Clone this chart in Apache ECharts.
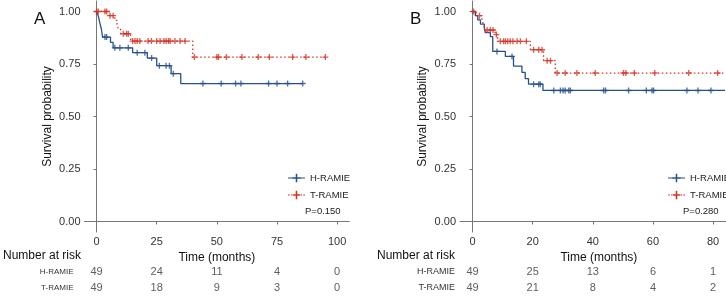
<!DOCTYPE html>
<html>
<head>
<meta charset="utf-8">
<script src="https://cdn.jsdelivr.net/npm/echarts@6/dist/echarts.min.js"></script>
<style>
html, body { margin: 0; padding: 0; background: #fff; }
#chart { width: 726px; height: 297px; }
</style>
</head>
<body>
<div id="chart"></div>
<script>
// ---- panel A ----
const aTicks = [0, 25, 50, 75, 100];
const aHTime = [0, 0.7, 1.5, 2, 2.5, 5.8, 6.9, 15, 21.1, 25, 31, 35, 85.7];
const aHSurv = [1, 0.98, 0.939, 0.918, 0.878, 0.853, 0.827, 0.804, 0.778, 0.742, 0.704, 0.657, 0.657];
const aHCens = [3.5, 4.2, 7.6, 9.7, 13.2, 16.9, 20.1, 22.9, 26.1, 28.9, 30.3, 31.9, 44.2, 51.8, 57.8, 60, 71.5, 75, 79.4, 85.7];
const aTTime = [0, 5.3, 7.6, 8.5, 9.1, 10, 14.2, 40, 95.1];
const aTSurv = [1, 0.98, 0.958, 0.938, 0.915, 0.894, 0.859, 0.783, 0.783];
const aTCens = [0, 0.7, 3.5, 4.2, 5.6, 6.9, 11.1, 12.5, 13.2, 15, 16, 16.9, 18, 21.4, 22.8, 25, 26.4, 28, 28.9, 29.9, 30.6, 32.6, 34.7, 36.8, 40.7, 50, 50.7, 54, 60.4, 67.2, 71.8, 81.5, 87, 95.1];
const aRiskH = [49, 24, 11, 4, 0];
const aRiskT = [49, 18, 9, 3, 0];

// ---- panel B ----
const bTicks = [0, 20, 40, 60, 80];
const bHTime = [0, 0.9, 1.7, 2.6, 3.9, 4.2, 5.9, 6.7, 10.9, 13.6, 16.4, 17.5, 18.6, 23.4, 84];
const bHSurv = [1, 0.98, 0.96, 0.94, 0.92, 0.90, 0.88, 0.81, 0.786, 0.74, 0.71, 0.68, 0.654, 0.624, 0.624];
const bHCens = [8.1, 13.1, 20.3, 22, 22.5, 27, 29.2, 30.1, 30.8, 32, 32.5, 43.6, 44.2, 51.9, 57.8, 59.7, 60.2, 71.3, 75, 79.3];
const bTTime = [0, 1.2, 3.1, 3.7, 4.2, 7.5, 8.3, 19.2, 23.6, 27.5, 84];
const bTSurv = [1, 0.98, 0.958, 0.937, 0.912, 0.89, 0.858, 0.818, 0.766, 0.707, 0.707];
const bTCens = [0.3, 2.3, 4.8, 5.9, 6.8, 7.9, 9.2, 10.3, 10.9, 11.7, 12.5, 13.4, 14.8, 15.9, 17.9, 20.3, 22, 23.1, 24.8, 25.9, 28.1, 30.8, 34.7, 40.8, 50.2, 51, 53.8, 60.6, 71.9, 81.5];
const bRiskH = [49, 25, 13, 6, 1];
const bRiskT = [49, 21, 8, 4, 2];

const groups = ['H-RAMIE', 'T-RAMIE'];
const yTicks = [0, 0.25, 0.5, 0.75, 1];

const BLUE = '#27508a';
const RED = '#d7301f';
const FONT = 'Liberation Sans, Arial, sans-serif';
const PLUS = 'path://M3.5,0H5.5V3.5H9V5.5H5.5V9H3.5V5.5H0V3.5H3.5Z';

// survival value at time t (step function)
function survAt(times, surv, t) {
    let v = surv[0];
    for (let i = 0; i < times.length; i++) {
        if (times[i] <= t) v = surv[i];
    }
    return v;
}

const zip = (xs, ys) => xs.map((x, i) => [x, ys[i]]);

function curve(name, times, surv, color, dotted, idx) {
    return {
        name: name,
        type: 'line',
        step: 'end',
        xAxisIndex: idx,
        yAxisIndex: idx,
        data: zip(times, surv),
        symbol: 'none',
        color: color,
        lineStyle: { color: color, width: 1.3, type: dotted ? [1.5, 2.5] : 'solid' },
        z: dotted ? 4 : 3
    };
}

function censors(name, times, surv, cens, color, idx) {
    return {
        name: name,
        type: 'scatter',
        xAxisIndex: idx,
        yAxisIndex: idx,
        data: cens.map(t => [t, survAt(times, surv, t)]),
        symbol: PLUS,
        symbolSize: 6,
        color: color,
        itemStyle: { color: color },
        z: 5
    };
}

function riskSeries(key, ticks, counts, row, idx) {
    return {
        name: key,
        type: 'scatter',
        xAxisIndex: idx,
        yAxisIndex: idx,
        data: ticks.map((t, i) => [t, row, counts[i]]),
        symbol: 'circle',
        symbolSize: 1,
        itemStyle: { color: 'rgba(0,0,0,0)' },
        label: {
            show: true,
            position: 'inside',
            formatter: p => p.value[2],
            fontFamily: FONT,
            fontSize: 11,
            color: '#333'
        }
    };
}

function plotX(idx, min, max, ticks) {
    return {
        type: 'value',
        gridIndex: idx,
        min: min,
        max: max,
        name: 'Time (months)',
        nameLocation: 'middle',
        nameGap: 18,
        nameTextStyle: { fontFamily: FONT, fontSize: 12, color: '#111' },
        axisLine: { show: true, lineStyle: { color: '#777', width: 1 } },
        axisTick: { show: true, length: 3, lineStyle: { color: '#777' }, customValues: ticks },
        axisLabel: { fontFamily: FONT, fontSize: 11, color: '#333', margin: 4, customValues: ticks },
        splitLine: { show: false }
    };
}

function plotY(idx) {
    return {
        type: 'value',
        gridIndex: idx,
        min: -0.05,
        max: 1.05,
        name: 'Survival probability',
        nameLocation: 'middle',
        nameGap: 31,
        nameTextStyle: { fontFamily: FONT, fontSize: 12, color: '#111' },
        axisLine: { show: true, lineStyle: { color: '#777', width: 1 } },
        axisTick: { show: true, length: 3, lineStyle: { color: '#777' }, customValues: yTicks },
        axisLabel: {
            fontFamily: FONT, fontSize: 11, color: '#333', margin: 4,
            customValues: yTicks,
            formatter: v => v.toFixed(2)
        },
        splitLine: { show: false }
    };
}

function riskX(idx, min, max) {
    return { type: 'value', gridIndex: idx, min: min, max: max, show: false };
}

function riskY(idx, fontSize, margin) {
    return {
        type: 'category',
        gridIndex: idx,
        inverse: true,
        data: groups,
        axisLine: { show: false },
        axisTick: { show: false },
        axisLabel: { fontFamily: FONT, fontSize: fontSize, color: '#333', margin: margin },
        splitLine: { show: false }
    };
}

const iconH = 'path://M0,4.3H20V5.7H0Z M5,4H15V6H5Z M9.1,0H10.9V10H9.1Z';
const iconT = 'path://M0,4.3H2V5.7H0Z M3.5,4.3H5.5V5.7H3.5Z M14.5,4.3H16.5V5.7H14.5Z M18,4.3H20V5.7H18Z M6,4H14V6H6Z M9.1,0H10.9V10H9.1Z';

function legendAt(left) {
    return {
        orient: 'vertical',
        left: left,
        top: 168,
        itemWidth: 17,
        itemHeight: 10,
        itemGap: 7,
        selectedMode: false,
        textStyle: { fontFamily: FONT, fontSize: 9.5, color: '#222' },
        data: [
            { name: 'H-RAMIE', icon: iconH, itemStyle: { color: BLUE } },
            { name: 'T-RAMIE', icon: iconT, itemStyle: { color: RED } }
        ]
    };
}

const gridA = { left: 84.5, top: 1, width: 264.7, height: 231, outerBoundsMode: 'none' };
const gridB = { left: 460, top: 1, width: 277.7, height: 231, outerBoundsMode: 'none' };

const option = {
    animation: false,
    backgroundColor: '#fff',
    title: [
        { text: 'A', left: 29, top: 6, textStyle: { fontFamily: FONT, fontSize: 17, fontWeight: 'normal', color: '#111' } },
        { text: 'B', left: 405, top: 6, textStyle: { fontFamily: FONT, fontSize: 17, fontWeight: 'normal', color: '#111' } },
        { text: 'Number at risk', left: 3, top: 250, padding: 0, textStyle: { fontFamily: FONT, fontSize: 12, fontWeight: 'normal', color: '#111' } },
        { text: 'Number at risk', left: 377, top: 250, padding: 0, textStyle: { fontFamily: FONT, fontSize: 12, fontWeight: 'normal', color: '#111' } },
        { text: 'P=0.150', left: 305, top: 206, padding: 0, textStyle: { fontFamily: FONT, fontSize: 9.5, fontWeight: 'normal', color: '#222' } },
        { text: 'P=0.280', left: 683, top: 206, padding: 0, textStyle: { fontFamily: FONT, fontSize: 9.5, fontWeight: 'normal', color: '#222' } }
    ],
    legend: [legendAt(283), legendAt(663)],
    grid: [
        gridA,
        gridB,
        { left: 84.5, top: 264, width: 264.7, height: 32, outerBoundsMode: 'none' },
        { left: 460, top: 264, width: 277.7, height: 32, outerBoundsMode: 'none' }
    ],
    xAxis: [
        plotX(0, -5, 105, aTicks),
        plotX(1, -4.2, 88.2, bTicks),
        riskX(2, -5, 105),
        riskX(3, -4.2, 88.2)
    ],
    yAxis: [
        plotY(0),
        plotY(1),
        riskY(2, 8, 11),
        riskY(3, 9, 5)
    ],
    series: [
        curve('H-RAMIE', aHTime, aHSurv, BLUE, false, 0),
        censors('H-RAMIE', aHTime, aHSurv, aHCens, BLUE, 0),
        curve('T-RAMIE', aTTime, aTSurv, RED, true, 0),
        censors('T-RAMIE', aTTime, aTSurv, aTCens, RED, 0),
        curve('H-RAMIE', bHTime, bHSurv, BLUE, false, 1),
        censors('H-RAMIE', bHTime, bHSurv, bHCens, BLUE, 1),
        curve('T-RAMIE', bTTime, bTSurv, RED, true, 1),
        censors('T-RAMIE', bTTime, bTSurv, bTCens, RED, 1),
        riskSeries('riskAH', aTicks, aRiskH, 'H-RAMIE', 2),
        riskSeries('riskAT', aTicks, aRiskT, 'T-RAMIE', 2),
        riskSeries('riskBH', bTicks, bRiskH, 'H-RAMIE', 3),
        riskSeries('riskBT', bTicks, bRiskT, 'T-RAMIE', 3)
    ]
};

const chart = echarts.init(document.getElementById('chart'));
chart.setOption(option);
</script>
</body>
</html>
